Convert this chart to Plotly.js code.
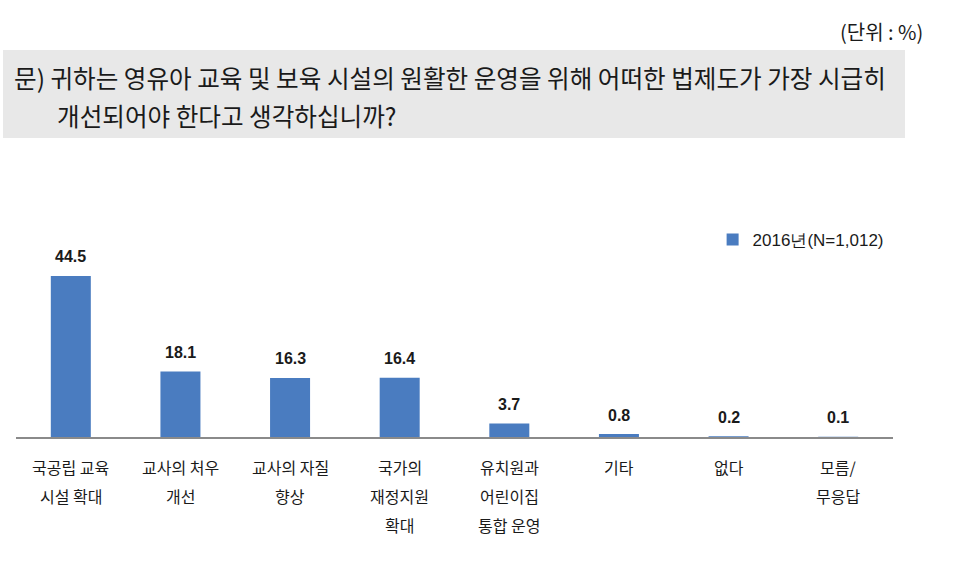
<!DOCTYPE html>
<html>
<head>
<meta charset="utf-8">
<script src="https://cdn.plot.ly/plotly-3.0.1.min.js"></script>
<style>html,body{margin:0;padding:0;background:#fff;}#chart{width:953px;height:562px;}</style>
</head>
<body>
<div id="chart"></div>
<script>
const categories = ["국공립 교육 시설 확대","교사의 처우 개선","교사의 자질 향상","국가의 재정지원 확대","유치원과 어린이집 통합 운영","기타","없다","모름/무응답"];
const labelLines = [["국공립 교육","시설 확대"],["교사의 처우","개선"],["교사의 자질","향상"],["국가의","재정지원","확대"],["유치원과","어린이집","통합 운영"],["기타"],["없다"],["모름/","무응답"]];
const values = [44.5, 18.1, 16.3, 16.4, 3.7, 0.8, 0.2, 0.1];
const seriesName = "2016년(N=1,012)";
const questionLines = ["문) 귀하는 영유아 교육 및 보육 시설의 원활한 운영을 위해 어떠한 법제도가 가장 시급히","개선되어야 한다고 생각하십니까?"];
const unitText = "(단위 : %)";

const KFONT = "'Noto Sans CJK KR', 'Noto Sans', sans-serif";
const annotations = [];
values.forEach((v, i) => {
  annotations.push({x: categories[i], y: v, xref: 'x', yref: 'y', text: v.toFixed(1), showarrow: false,
    yanchor: 'middle', yshift: 19, font: {family: "'Liberation Sans', Arial, sans-serif", size: 16, color: '#1a1a1a', weight: 'bold'}});
});
labelLines.forEach((lines, i) => {
  lines.forEach((t, j) => {
    annotations.push({x: categories[i], y: 0, xref: 'x', yref: 'y', text: t, showarrow: false,
      yanchor: 'middle', yshift: -(30 + 29 * j), font: {family: KFONT, size: 16, color: '#1a1a1a'}});
  });
});
annotations.push({x: -0.0046, y: 1.989, xref: 'paper', yref: 'paper', text: questionLines[0], showarrow: false, xanchor: 'left', yanchor: 'middle', font: {family: KFONT, size: 24.6, color: '#1a1a1a'}});
annotations.push({x: 0.0445, y: 1.779, xref: 'paper', yref: 'paper', text: questionLines[1], showarrow: false, xanchor: 'left', yanchor: 'middle', font: {family: KFONT, size: 24.6, color: '#1a1a1a'}});
annotations.push({x: 1.037, y: 2.2376, xref: 'paper', yref: 'paper', text: unitText, showarrow: false, xanchor: 'right', yanchor: 'middle', font: {family: KFONT, size: 20, color: '#1a1a1a'}});

const trace = {type: 'bar', x: categories, y: values, name: seriesName, width: 0.365,
  marker: {color: '#4a7cc0', line: {width: 0}}, showlegend: true, hoverinfo: 'none'};

const layout = {
  width: 953, height: 562,
  margin: {l: 16, r: 60, t: 256, b: 125, pad: 0},
  paper_bgcolor: '#ffffff', plot_bgcolor: '#ffffff',
  xaxis: {showticklabels: false, ticks: '', showline: true, linecolor: '#8a8a8a', linewidth: 2, showgrid: false, zeroline: false, fixedrange: true},
  yaxis: {range: [0, 50], visible: false, showgrid: false, zeroline: false},
  showlegend: true,
  legend: {x: 0.995, y: 1.088, xanchor: 'right', yanchor: 'middle', bgcolor: 'rgba(0,0,0,0)',
    font: {family: "'Liberation Sans', Arial, sans-serif", size: 17, color: '#1a1a1a'}, itemwidth: 30},
  shapes: [{type: 'rect', xref: 'paper', yref: 'paper', x0: -0.0148, x1: 1.0137, y0: 1.652, y1: 2.138,
    fillcolor: '#e8e8e8', line: {width: 0}, layer: 'below'}],
  annotations: annotations
};
Plotly.newPlot('chart', [trace], layout, {displayModeBar: false, staticPlot: true});
</script>
</body>
</html>
